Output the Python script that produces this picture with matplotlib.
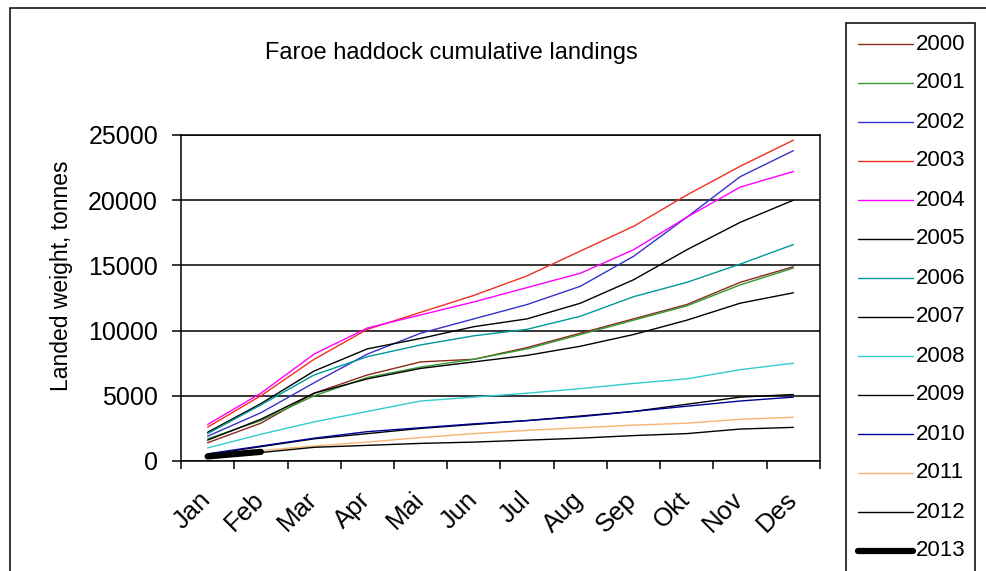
import matplotlib
matplotlib.use("Agg")
import matplotlib.pyplot as plt
from matplotlib.lines import Line2D
from matplotlib.patches import Rectangle
from matplotlib.transforms import ScaledTranslation

plt.rcParams['font.family'] = ['Liberation Sans', 'DejaVu Sans']

months = ['Jan', 'Feb', 'Mar', 'Apr', 'Mai', 'Jun', 'Jul', 'Aug', 'Sep', 'Okt', 'Nov', 'Des']

y2000 = [1400, 2900, 5200, 6600, 7600, 7800, 8700, 9800, 10900, 12000, 13700, 14900]
y2001 = [1700, 3100, 5000, 6400, 7200, 7800, 8600, 9700, 10800, 11900, 13500, 14800]
y2002 = [1900, 3700, 6000, 8200, 9800, 10900, 12000, 13400, 15700, 18700, 21800, 23800]
y2003 = [2600, 5000, 7800, 10100, 11400, 12700, 14200, 16100, 18000, 20400, 22600, 24600]
y2004 = [2800, 5200, 8200, 10200, 11200, 12200, 13300, 14400, 16200, 18700, 21000, 22200]
y2005 = [2200, 4400, 6900, 8600, 9400, 10300, 10900, 12100, 13900, 16200, 18300, 20000]
y2006 = [2100, 4300, 6600, 8000, 8900, 9600, 10100, 11100, 12600, 13700, 15100, 16600]
y2007 = [1600, 3200, 5200, 6300, 7100, 7600, 8100, 8800, 9700, 10800, 12100, 12900]
y2008 = [1000, 2050, 3000, 3800, 4600, 4900, 5200, 5550, 5950, 6300, 7000, 7500]
y2009 = [500, 1100, 1700, 2100, 2500, 2800, 3100, 3450, 3800, 4350, 4900, 5100]
y2010 = [550, 1150, 1750, 2250, 2550, 2850, 3100, 3400, 3800, 4200, 4600, 4900]
y2011 = [450, 800, 1150, 1450, 1800, 2100, 2350, 2550, 2750, 2900, 3200, 3350]
y2012 = [350, 650, 1050, 1200, 1350, 1450, 1600, 1750, 1950, 2100, 2450, 2580]
y2013 = [350, 700]

years = ['2000', '2001', '2002', '2003', '2004', '2005', '2006',
         '2007', '2008', '2009', '2010', '2011', '2012', '2013']
series = [y2000, y2001, y2002, y2003, y2004, y2005, y2006,
          y2007, y2008, y2009, y2010, y2011, y2012, y2013]
colors = ['#8B2A1A', '#339933', '#3333CC', '#F03020', '#FF00FF', '#000000',
          '#009999', '#000000', '#33CCCC', '#000000', '#000099', '#F5B56E',
          '#000000', '#000000']
widths = [1.0] * 13 + [4.5]

W, H = 987, 571
fig = plt.figure(figsize=(W / 100, H / 100), dpi=100)
fig.patch.set_facecolor('white')

ax = fig.add_axes([181 / W, 1 - 461 / H, (820 - 181) / W, (461 - 135) / H])

for vals, col, lw in zip(series, colors, widths):
    ax.plot(range(len(vals)), vals, color=col, lw=lw, solid_capstyle='round')

ax.set_xlim(-0.5, 11.5)
ax.set_ylim(0, 25000)
ax.set_yticks(range(0, 25001, 5000))
ax.yaxis.grid(True, color='black', lw=1.1)
ax.set_axisbelow(True)
for sp in ax.spines.values():
    sp.set_color('black')
    sp.set_linewidth(1.1)

ax.tick_params(axis='y', direction='out', length=6.5, width=1.1, pad=10, labelsize=18)
ax.set_xticks(range(12))
ax.set_xticklabels(months, rotation=45, ha='right', va='top', fontsize=18.5)
ax.set_xticks([i - 0.5 for i in range(13)], minor=True)
ax.tick_params(axis='x', which='major', length=0, pad=19)
ax.tick_params(axis='x', which='minor', direction='out', length=6, width=1.1)
shift = ScaledTranslation(8 / 100, 0, fig.dpi_scale_trans)
for lbl in ax.get_xticklabels():
    lbl.set_transform(lbl.get_transform() + shift)

fig.text(451 / W, 1 - 59 / H, 'Faroe haddock cumulative landings',
         ha='center', va='baseline', fontsize=17)
fig.text(62 / W, 1 - 276 / H, 'Landed weight, tonnes', rotation=90,
         ha='center', va='center', fontsize=16.5)

# outer chart frame and legend box (both run past the lower edge)
fig.add_artist(Rectangle((10 / W, -0.2), 1.2, (H - 8) / H + 0.2, fill=False,
                         edgecolor='black', lw=1.1, transform=fig.transFigure))
fig.add_artist(Rectangle((846 / W, -0.2), (975 - 846) / W, (H - 23) / H + 0.2,
                         fill=False, edgecolor='black', lw=1.1,
                         transform=fig.transFigure))

# legend entries
for i, (yr, col, lw) in enumerate(zip(years, colors, widths)):
    yy = 1 - (44 + 39 * i) / H
    fig.add_artist(Line2D([858 / W, 913 / W], [yy, yy], color=col, lw=lw,
                          solid_capstyle='round', transform=fig.transFigure))
    fig.text(916 / W, yy, yr, ha='left', va='center', fontsize=16)

fig.savefig('out.png', dpi=100)
